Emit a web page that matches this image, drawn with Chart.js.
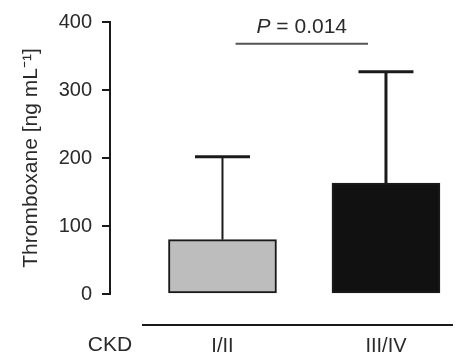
<!DOCTYPE html>
<html>
<head>
<meta charset="utf-8">
<script src="https://cdn.jsdelivr.net/npm/chart.js@4"></script>
<style>
html,body{margin:0;padding:0;background:#fff;}
#wrap{width:455px;height:356px;position:relative;}
</style>
</head>
<body>
<div id="wrap"><canvas id="c" width="455" height="356"></canvas></div>
<script>
const categories = ['I/II', 'III/IV'];
const means = [80, 163];
const errUpper = [202, 327];
const yTicks = [0, 100, 200, 300, 400];
const pText = '0.014';
const pBracketValue = 368;
const pBracketSpan = [1.08, 1.89];
const groupLabel = 'CKD';
const yTitle = 'Thromboxane [ng mL\u207B\u00B9]';

const FONT = "'Liberation Sans', Arial, sans-serif";
const TXT = '#2a2a2a';
const INK = '#1a1a1a';

const extras = {
  id: 'extras',
  afterDatasetsDraw(chart) {
    const ctx = chart.ctx;
    const x = chart.scales.x, y = chart.scales.y;
    const ca = chart.chartArea;
    ctx.save();
    const lw = [2, 3];
    categories.forEach((c, i) => {
      const cx = x.getPixelForValue(i + 1);
      const top = y.getPixelForValue(errUpper[i]);
      const base = y.getPixelForValue(means[i]);
      ctx.strokeStyle = INK;
      ctx.lineWidth = lw[i];
      ctx.beginPath();
      ctx.moveTo(cx, base);
      ctx.lineTo(cx, top);
      ctx.stroke();
      ctx.lineWidth = 3;
      ctx.beginPath();
      ctx.moveTo(cx - 27.5, top);
      ctx.lineTo(cx + 27.5, top);
      ctx.stroke();
    });
    const py = y.getPixelForValue(pBracketValue);
    const px1 = x.getPixelForValue(pBracketSpan[0]);
    const px2 = x.getPixelForValue(pBracketSpan[1]);
    ctx.strokeStyle = '#555';
    ctx.lineWidth = 2;
    ctx.beginPath();
    ctx.moveTo(px1, py);
    ctx.lineTo(px2, py);
    ctx.stroke();
    const pmid = (px1 + px2) / 2;
    ctx.fillStyle = TXT;
    ctx.textBaseline = 'middle';
    ctx.font = 'italic 21px ' + FONT;
    const wP = ctx.measureText('P').width;
    ctx.font = '21px ' + FONT;
    const rest = ' = ' + pText;
    const wR = ctx.measureText(rest).width;
    const startX = pmid - (wP + wR) / 2;
    const ty = py - 17;
    ctx.font = 'italic 21px ' + FONT;
    ctx.textAlign = 'left';
    ctx.fillText('P', startX, ty);
    ctx.font = '21px ' + FONT;
    ctx.fillText(rest, startX + wP, ty);
    ctx.strokeStyle = INK;
    ctx.lineWidth = 2;
    ctx.beginPath();
    ctx.moveTo(142, ca.bottom + 31);
    ctx.lineTo(453, ca.bottom + 31);
    ctx.stroke();
    ctx.textAlign = 'center';
    ctx.font = '21px ' + FONT;
    ctx.fillText(groupLabel, ca.left, ca.bottom + 51);
    ctx.restore();
  }
};

new Chart(document.getElementById('c'), {
  type: 'bar',
  data: {
    datasets: [{
      data: categories.map((c, i) => ({ x: i + 1, y: means[i] })),
      backgroundColor: ['#bdbdbd', '#111111'],
      borderColor: INK,
      borderWidth: 2,
      borderSkipped: false,
      barThickness: 108,
      maxBarThickness: 200
    }]
  },
  options: {
    responsive: false,
    animation: false,
    devicePixelRatio: 1,
    layout: { padding: { top: 19, right: 2, left: 0, bottom: 0 } },
    plugins: { legend: { display: false }, tooltip: { enabled: false } },
    scales: {
      x: {
        type: 'linear',
        offset: false,
        min: 0.312,
        max: 2.41,
        afterBuildTicks: s => { s.ticks = categories.map((c, i) => ({ value: i + 1 })); },
        afterFit: s => { s.height = 62; },
        grid: { display: false, drawTicks: false, offset: false },
        border: { display: false },
        ticks: {
          callback: v => categories[v - 1],
          font: { family: FONT, size: 20 },
          color: TXT,
          padding: 40,
          maxRotation: 0,
          autoSkip: false
        }
      },
      y: {
        min: 0,
        max: 400,
        afterBuildTicks: s => { s.ticks = yTicks.map(v => ({ value: v })); },
        afterFit: s => { s.width = 110; },
        grid: { drawOnChartArea: false, drawTicks: true, tickLength: 8, color: INK, lineWidth: 2 },
        border: { display: true, color: INK, width: 2 },
        ticks: {
          font: { family: FONT, size: 20 },
          color: TXT,
          padding: 10
        },
        title: {
          display: true,
          text: yTitle,
          font: { family: FONT, size: 21 },
          color: TXT,
          padding: { top: 19, bottom: 0 }
        }
      }
    }
  },
  plugins: [extras]
});
</script>
</body>
</html>
